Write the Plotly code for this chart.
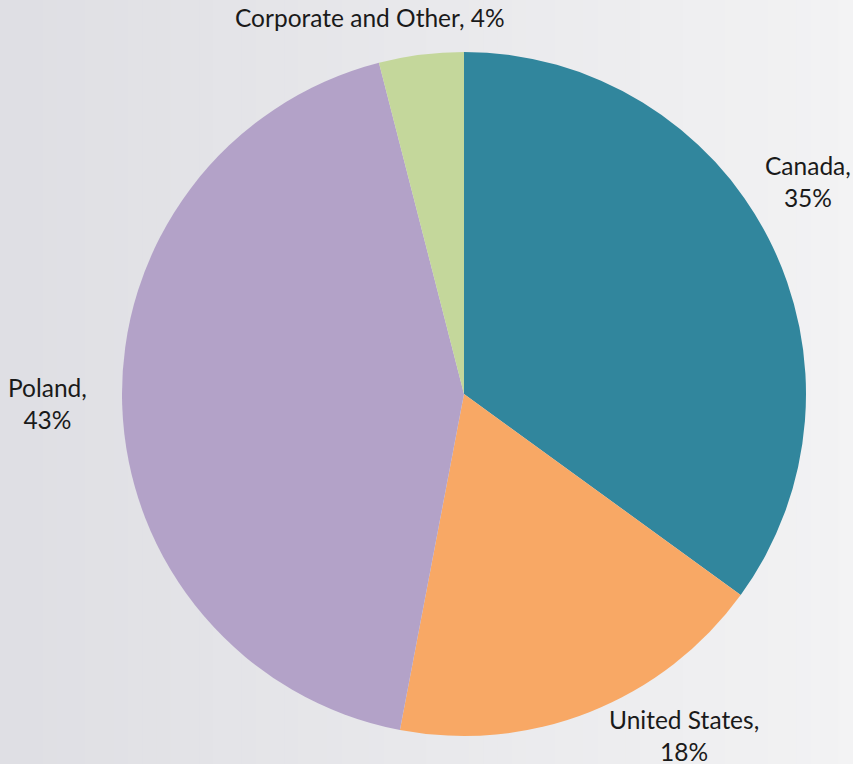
import plotly.graph_objects as go

segments = ["Canada", "United States", "Poland", "Corporate and Other"]
shares = [35, 18, 43, 4]
label_texts = ["Canada,<br>35%", "United States,<br>18%", "Poland,<br>43%", "Corporate and Other, 4%"]
colors = ["#31869D", "#F8A865", "#B3A2C8", "#C4D79B"]

W, H = 853, 764

fig = go.Figure()
fig.add_trace(go.Pie(
    labels=segments,
    values=shares,
    sort=False,
    direction="clockwise",
    rotation=0,
    marker=dict(colors=colors, line=dict(width=0)),
    textinfo="none",
    hoverinfo="label+percent",
    showlegend=False,
    domain=dict(x=[122 / W, 806 / W], y=[(H - 736) / H, (H - 52) / H]),
))

# background gradient (light gray, darker to the left)
n = 60
c0 = (223, 223, 228)
c1 = (243, 243, 244)
for i in range(n):
    t = i / (n - 1)
    r = int(c0[0] + (c1[0] - c0[0]) * t)
    g = int(c0[1] + (c1[1] - c0[1]) * t)
    b = int(c0[2] + (c1[2] - c0[2]) * t)
    fig.add_shape(type="rect", xref="paper", yref="paper",
                  x0=i / n, x1=(i + 1) / n + 0.002, y0=0, y1=1,
                  fillcolor=f"rgb({r},{g},{b})", line=dict(width=0), layer="below")

label_pos = [(808, 181), (684, 735), (47, 404), (370, 18)]
for txt, (px, py) in zip(label_texts, label_pos):
    fig.add_annotation(x=px / W, y=1 - py / H, xref="paper", yref="paper",
                       xanchor="center", yanchor="middle",
                       text=txt, showarrow=False, align="center",
                       font=dict(family="Lato", size=24.5, color="#1a1a1a"))

fig.update_layout(
    width=W, height=H,
    margin=dict(l=0, r=0, t=0, b=0),
    paper_bgcolor="#EBEBEE",
    plot_bgcolor="#EBEBEE",
)

fig.write_html("out.html", config={"displayModeBar": False},
               post_script="document.body.style.margin='0px';document.body.style.overflow='hidden';")
